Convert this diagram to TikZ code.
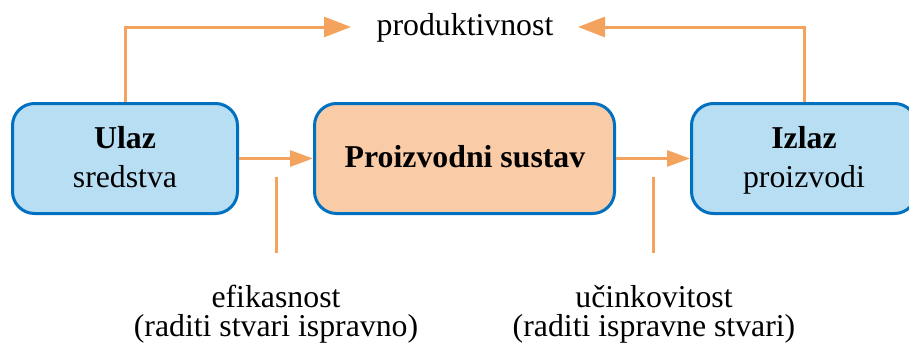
\documentclass[tikz,border=0pt]{standalone}
\usepackage{fontspec}
\setmainfont{Liberation Serif}
\usetikzlibrary{arrows.meta}
\definecolor{boxblue}{HTML}{0070C0}
\definecolor{fillblue}{HTML}{B7DEF2}
\definecolor{fillorange}{HTML}{F9CBA6}
\definecolor{lineorange}{HTML}{F4A35E}
\begin{document}
\begin{tikzpicture}[x=1pt,y=-1pt,
 box/.style={draw=boxblue,line width=3pt,rounded corners=22pt,minimum width=225pt,minimum height=110pt,inner sep=0pt},
 inbox/.style={box,fill=fillblue},
 sysbox/.style={box,fill=fillorange,minimum width=300pt},
 lbl/.style={anchor=base,inner sep=0pt,font=\fontsize{31.8}{36}\selectfont},
 flow/.style={draw=lineorange,line width=3pt},
 bigtip/.style={flow,-{Triangle[length=27pt,width=20pt]}},
 smalltip/.style={flow,-{Triangle[length=23pt,width=16pt]}}]
\useasboundingbox (0,0) rectangle (909,343);
% boxes
\node[inbox] (ulaz) at (125,158.5) {};
\node[sysbox] (sys) at (464.5,158.5) {};
\node[inbox] (izlaz) at (804,158.5) {};
% box texts
\node[lbl] (ulazT) at (125,148) {\bfseries Ulaz};
\node[lbl] (ulazS) at (125,187) {sredstva};
\node[lbl] (sysT) at (465,167) {\bfseries Proizvodni sustav};
\node[lbl] (izT) at (804,148) {\bfseries Izlaz};
\node[lbl] (izS) at (804,187) {proizvodi};
% top label
\node[lbl] (prod) at (465,35) {produktivnost};
% bottom labels
\node[lbl] (ef1) at (276,307) {efikasnost};
\node[lbl] (ef2) at (276,336) {(raditi stvari ispravno)};
\node[lbl] (uc1) at (654,307) {učinkovitost};
\node[lbl] (uc2) at (654,336) {(raditi ispravne stvari)};
% connectors
\coordinate (pl) at (351,27);
\coordinate (pr) at (578,27);
\draw[bigtip] (ulaz.north) |- (pl);
\draw[bigtip] (izlaz.north) |- (pr);
\draw[smalltip] (ulaz.east) -- (sys.west);
\draw[smalltip] (sys.east) -- (izlaz.west);
\coordinate (e1) at (276,177);
\coordinate (e2) at (276,253);
\coordinate (u1) at (653,177);
\coordinate (u2) at (653,253);
\draw[flow] (e1) -- (e2);
\draw[flow] (u1) -- (u2);
\end{tikzpicture}
\end{document}
